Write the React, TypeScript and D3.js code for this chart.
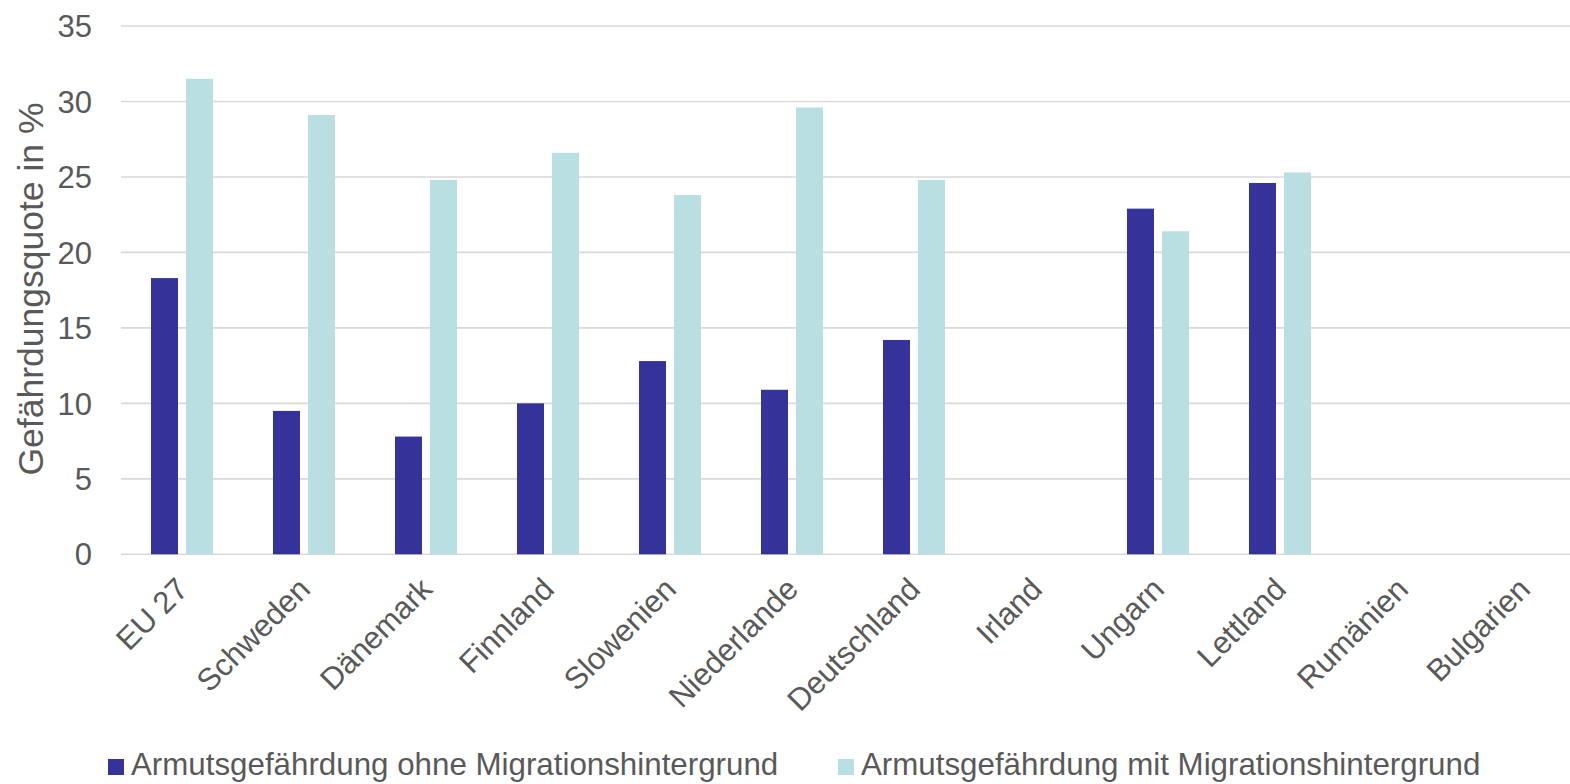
import React from "react";
import * as d3 from "d3";

const countries = [
  "EU 27",
  "Schweden",
  "Dänemark",
  "Finnland",
  "Slowenien",
  "Niederlande",
  "Deutschland",
  "Irland",
  "Ungarn",
  "Lettland",
  "Rumänien",
  "Bulgarien",
];

const seriesNames = [
  "Armutsgefährdung ohne Migrationshintergrund",
  "Armutsgefährdung mit Migrationshintergrund",
];

// null = no value reported
const ohneMigration: (number | null)[] = [18.3, 9.5, 7.8, 10.0, 12.8, 10.9, 14.2, null, 22.9, 24.6, null, null];
const mitMigration: (number | null)[] = [31.5, 29.1, 24.8, 26.6, 23.8, 29.6, 24.8, null, 21.4, 25.3, null, null];

const yTicks = [0, 5, 10, 15, 20, 25, 30, 35];

const seriesColors = ["#35339A", "#BADFE2"];

const W = 1570;
const H = 784;
const FONT = "'Liberation Sans', Arial, sans-serif";
const TEXT = "#595959";

export default function App() {
  const plotLeft = 121;
  const catStep = 122;
  const x0 = d3
    .scaleBand<string>()
    .domain(countries)
    .range([plotLeft, plotLeft + catStep * countries.length])
    .paddingInner(0)
    .paddingOuter(0);
  const x1 = d3
    .scaleBand<string>()
    .domain(seriesNames)
    .range([30, 92])
    .paddingInner(8 / 35)
    .paddingOuter(0);
  const y = d3.scaleLinear().domain([0, 35]).range([554.3, 26]);

  const data = [ohneMigration, mitMigration];

  return (
    <div style={{ position: "fixed", left: 0, top: 0 }}>
      <svg width={W} height={H} style={{ display: "block", background: "#fff" }}>
        {/* gridlines */}
        {yTicks.map((t) => (
          <line
            key={"g" + t}
            x1={plotLeft}
            x2={W}
            y1={y(t)}
            y2={y(t)}
            stroke="#D9D9D9"
            strokeWidth={1.6}
          />
        ))}
        {/* y tick labels */}
        {yTicks.map((t) => (
          <text
            key={"t" + t}
            x={92}
            y={y(t)}
            dy="0.36em"
            textAnchor="end"
            fontFamily={FONT}
            fontSize={31}
            fill={TEXT}
          >
            {t}
          </text>
        ))}
        {/* y axis title */}
        <text
          transform={`translate(43, 289) rotate(-90)`}
          textAnchor="middle"
          fontFamily={FONT}
          fontSize={35.5}
          fill={TEXT}
        >
          Gefährdungsquote in %
        </text>
        {/* bars */}
        {countries.map((c, i) => (
          <g key={c} transform={`translate(${x0(c)},0)`}>
            {seriesNames.map((s, si) => {
              const v = data[si][i];
              if (v == null) return null;
              return (
                <rect
                  key={s}
                  x={x1(s)}
                  y={y(v)}
                  width={x1.bandwidth()}
                  height={y(0) - y(v)}
                  fill={seriesColors[si]}
                />
              );
            })}
          </g>
        ))}
        {/* category labels */}
        {countries.map((c) => {
          const cx = (x0(c) as number) + x0.bandwidth() / 2 + 8;
          return (
            <text
              key={"l" + c}
              transform={`translate(${cx}, 591) rotate(-45)`}
              textAnchor="end"
              fontFamily={FONT}
              fontSize={31}
              fill={TEXT}
            >
              {c}
            </text>
          );
        })}
        {/* legend */}
        {seriesNames.map((s, si) => {
          const lx = si === 0 ? 108 : 838;
          return (
            <g key={"lg" + s} transform={`translate(${lx}, 759)`}>
              <rect x={0} y={0} width={16} height={16} fill={seriesColors[si]} />
              <text x={23} y={16} fontFamily={FONT} fontSize={31.3} fill={TEXT}>
                {s}
              </text>
            </g>
          );
        })}
      </svg>
    </div>
  );
}
